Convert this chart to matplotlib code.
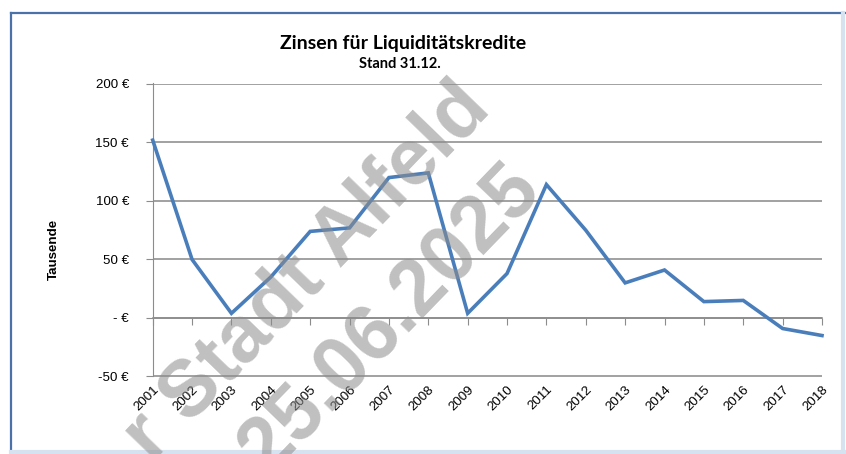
import matplotlib
matplotlib.use("Agg")
import matplotlib.pyplot as plt
from matplotlib.lines import Line2D

years = ["2001", "2002", "2003", "2004", "2005", "2006", "2007", "2008", "2009",
         "2010", "2011", "2012", "2013", "2014", "2015", "2016", "2017", "2018"]
zinsen = [152, 50, 4, 35, 74, 77, 120, 124, 4, 38, 114, 75, 30, 41, 14, 15, -9, -15]
y_ticks = [-50, 0, 50, 100, 150, 200]
y_labels = ["-50 €", "- €", "50 €", "100 €", "150 €", "200 €"]

W, H = 846, 454
fig = plt.figure(figsize=(W / 100, H / 100), dpi=100)
fig.patch.set_facecolor("white")

def fx(px):
    return px / W

def fy(py):
    return 1 - py / H

ax = fig.add_axes([fx(152.7), fy(380), fx(822) - fx(152.7), fy(83.5) - fy(380)])
x = list(range(len(years)))

ax.set_xlim(0, len(years) - 1)
ax.set_ylim(-53, 200.4)
for yv in y_ticks:
    ax.axhline(yv, color="#8c8c8c", lw=1.15, zorder=15)
ax.plot(x, zinsen, color="#4a7ebb", lw=2.6, solid_joinstyle="miter", zorder=16, clip_on=False)

ax.set_yticks(y_ticks)
ax.set_yticklabels(y_labels, fontsize=9.6, family="Liberation Sans")
for s in ["top", "right"]:
    ax.spines[s].set_visible(False)
ax.spines["left"].set_color("#8c8c8c")
ax.spines["left"].set_bounds(-50, 200.4)
ax.spines["bottom"].set_position(("data", 0))
ax.spines["bottom"].set_color("#8c8c8c")
ax.spines["bottom"].set_linewidth(1.15)
ax.tick_params(axis="y", direction="out", length=5, color="#8c8c8c", pad=12)

ax.set_xticks(x)
ax.set_xticklabels([])
ax.tick_params(axis="x", direction="out", length=5, color="#8c8c8c")

sec = ax.secondary_xaxis(3 / 253.4)
sec.set_zorder(0.5)
sec.set_xticks(x)
sec.set_xticklabels(years, rotation=45, ha="right", va="top", rotation_mode="anchor",
                    fontsize=9.6, family="Liberation Sans")
sec.tick_params(axis="x", length=0, pad=5)
sec.spines["bottom"].set_visible(False)

ax.set_ylabel("Tausende", fontsize=9.6, fontweight="bold", family="Liberation Sans")
ax.yaxis.set_label_coords((60 - 152.7) / 669.3, (380 - 249) / 296.5)

fig.text(fx(403), fy(49), "Zinsen für Liquiditätskredite", ha="center", va="baseline",
         fontsize=14, fontweight="bold", family="Lato")
fig.text(fx(400), fy(67.5), "Stand 31.12.", ha="center", va="baseline",
         fontsize=10.5, fontweight="bold", family="Lato")

# watermark
wm_kw = dict(ha="center", va="center", rotation=46, rotation_mode="anchor",
             fontsize=57, fontweight="bold", family="Liberation Sans",
             color=(0.55, 0.55, 0.55), alpha=0.55, zorder=10)
fig.text(fx(308), fy(273), "r Stadt Alfeld", **wm_kw)
fig.text(fx(390), fy(320), "25.06.2025", **wm_kw)

# chart frame
fig.add_artist(Line2D([fx(11), fx(11)], [fy(13), fy(452)], color="#4a72a8", lw=1.6))
fig.add_artist(Line2D([fx(11), fx(846)], [fy(13), fy(13)], color="#4a72a8", lw=1.6))
fig.add_artist(Line2D([fx(843), fx(843)], [fy(13), fy(452)], color="#d6e2f0", lw=3))
fig.add_artist(Line2D([fx(11), fx(846)], [fy(452), fy(452)], color="#d6e2f0", lw=3))

fig.savefig("out.png", dpi=100)
